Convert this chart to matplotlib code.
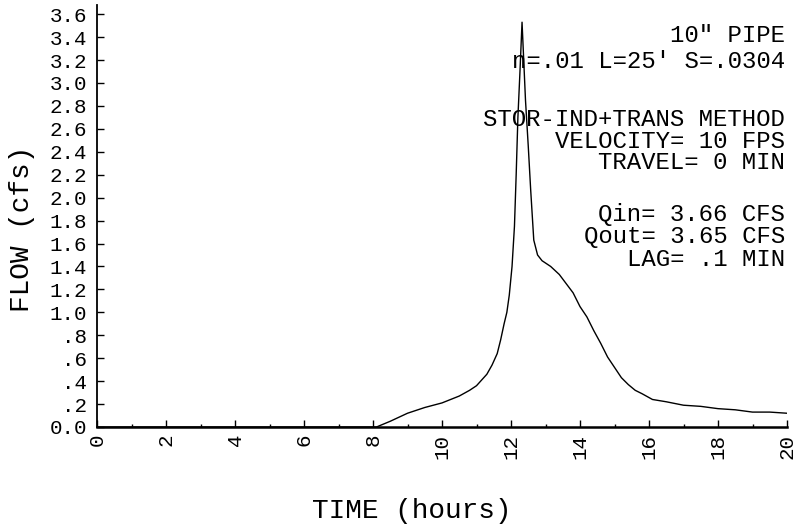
import numpy as np
import matplotlib
matplotlib.use("Agg")
import matplotlib.pyplot as plt

# hydrograph (hours, cfs)
hours = [0.0, 8.1, 8.5, 9.0, 9.5, 10.0, 10.5, 10.8, 11.0, 11.3, 11.45, 11.6,
         11.7, 11.8, 11.88, 11.95, 12.03, 12.1, 12.15, 12.2, 12.26, 12.32,
         12.42, 12.5, 12.57, 12.66, 12.77, 12.9, 13.15, 13.4, 13.6, 13.8,
         14.0, 14.2, 14.4, 14.6, 14.8, 15.0, 15.2, 15.4, 15.6, 15.8, 16.1,
         16.5, 17.0, 17.5, 18.0, 18.5, 19.0, 19.5, 20.0]
flow = [0.0, 0.0, 0.05, 0.12, 0.17, 0.21, 0.27, 0.32, 0.36, 0.46, 0.54, 0.64,
        0.76, 0.90, 1.00, 1.15, 1.40, 1.75, 2.20, 2.70, 3.10, 3.53,
        2.85, 2.45, 2.07, 1.63, 1.50, 1.45, 1.40, 1.33, 1.25, 1.17,
        1.05, 0.96, 0.84, 0.73, 0.61, 0.52, 0.43, 0.37, 0.32, 0.29, 0.24,
        0.22, 0.19, 0.18, 0.16, 0.15, 0.13, 0.13, 0.12]

x_ticks = [0, 2, 4, 6, 8, 10, 12, 14, 16, 18, 20]
y_ticks = [0.0, 0.2, 0.4, 0.6, 0.8, 1.0, 1.2, 1.4, 1.6, 1.8, 2.0, 2.2, 2.4,
           2.6, 2.8, 3.0, 3.2, 3.4, 3.6]
y_labels = ["0.0", ".2", ".4", ".6", ".8", "1.0", "1.2", "1.4", "1.6", "1.8",
            "2.0", "2.2", "2.4", "2.6", "2.8", "3.0", "3.2", "3.4", "3.6"]

notes = ['10" PIPE', "n=.01 L=25' S=.0304", "STOR-IND+TRANS METHOD",
         "VELOCITY= 10 FPS", "TRAVEL= 0 MIN", "Qin= 3.66 CFS",
         "Qout= 3.65 CFS", "LAG= .1 MIN"]
note_y = [35, 62, 119, 141, 162, 214, 236, 259]  # pixel rows from top

plt.rcParams['font.family'] = ['Liberation Mono', 'DejaVu Sans Mono']

W, H = 800, 531
fig = plt.figure(figsize=(8, 5.31), dpi=100)
ax = fig.add_axes([97 / W, 1 - 427 / H, 690 / W, 422 / H])

ax.plot(hours, flow, color="black", lw=1.0)
ax.set_xlim(0, 20)
ax.set_ylim(0, 3.68)

ax.spines["top"].set_visible(False)
ax.spines["right"].set_visible(False)
ax.spines["left"].set_linewidth(1.3)
ax.spines["bottom"].set_linewidth(1.8)

ax.set_xticks(x_ticks)
ax.set_xticklabels([str(t) for t in x_ticks], rotation=90, va="top", ha="center")
ax.set_xticks(np.arange(1, 20, 2), minor=True)
ax.set_yticks(y_ticks)
ax.set_yticklabels(y_labels)
ax.tick_params(axis="both", which="major", direction="in", length=5, width=1,
               labelsize=15, pad=5)
ax.tick_params(axis="x", which="minor", direction="in", length=2, width=1)
ax.tick_params(axis="y", pad=7)

for txt, yy in zip(notes, note_y):
    fig.text(785 / W, 1 - yy / H, txt, ha="right", va="center", fontsize=17.3)

fig.text(412 / W, 1 - 511 / H, "TIME (hours)", ha="center", va="center", fontsize=20)
fig.text(22 / W, 1 - 229 / H, "FLOW (cfs)", ha="center", va="center",
         rotation=90, fontsize=20)

fig.savefig("out.png", dpi=100, facecolor="white")
